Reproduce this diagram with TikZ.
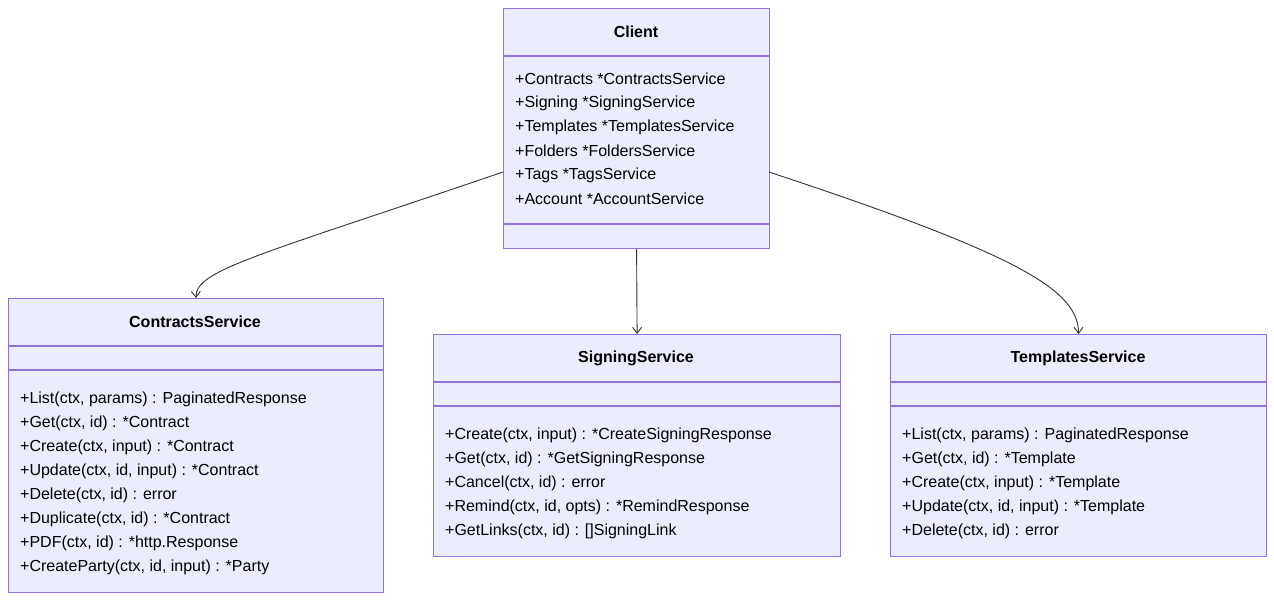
\documentclass[tikz,border=0pt]{standalone}
\usepackage{fontspec}
\setmainfont{Liberation Sans}
\usetikzlibrary{arrows.meta}
\definecolor{cfill}{HTML}{ECECFF}
\definecolor{cstroke}{HTML}{9370DB}
\definecolor{cline}{HTML}{333333}
\begin{document}
\begin{tikzpicture}[x=1pt,y=-1pt,
  box/.style={draw=cstroke,fill=cfill,line width=1.2pt,anchor=north west,inner sep=0pt},
  title/.style={font=\fontsize{16}{16}\selectfont\bfseries,text=black},
  mem/.style={font=\fontsize{16}{16}\selectfont,anchor=west,inner sep=0pt,text=black},
  div/.style={draw=cstroke,line width=1.2pt},
  conn/.style={draw=cline,line width=0.9pt,-{Straight Barb[length=6pt,width=9pt]}}]
\useasboundingbox (0,0) rectangle (1274,600);
% Client
\node[box,minimum width=266pt,minimum height=240pt] (client) at (503,8) {};
\draw[div] (503,56) -- (769,56) (503,224) -- (769,224);
\node[title] (clientt) at (636,32) {Client};
\foreach \t [count=\i] in {+Contracts *ContractsService,+Signing *SigningService,+Templates *TemplatesService,+Folders *FoldersService,+Tags *TagsService,+Account *AccountService}
  \node[mem] (cm\i) at (515,{55+24*\i}) {\t};
% Contracts
\node[box,minimum width=375pt,minimum height=294pt] (contracts) at (8,298) {};
\draw[div] (8,346) -- (383,346) (8,370) -- (383,370);
\node[title] (contractst) at (195,322) {ContractsService};
\foreach \t [count=\i] in {+List(ctx{,} params) : PaginatedResponse,+Get(ctx{,} id) : *Contract,+Create(ctx{,} input) : *Contract,+Update(ctx{,} id{,} input) : *Contract,+Delete(ctx{,} id) : error,+Duplicate(ctx{,} id) : *Contract,+PDF(ctx{,} id) : *http.Response,+CreateParty(ctx{,} id{,} input) : *Party}
  \node[mem] (km\i) at (20,{375+24*\i}) {\t};
% Signing
\node[box,minimum width=407pt,minimum height=222pt] (signing) at (433,334) {};
\draw[div] (433,382) -- (840,382) (433,406) -- (840,406);
\node[title] (signingt) at (636,358) {SigningService};
\foreach \t [count=\i] in {+Create(ctx{,} input) : *CreateSigningResponse,+Get(ctx{,} id) : *GetSigningResponse,+Cancel(ctx{,} id) : error,+Remind(ctx{,} id{,} opts) : *RemindResponse,+GetLinks(ctx{,} id) : []SigningLink}
  \node[mem] (sm\i) at (445,{411+24*\i}) {\t};
% Templates
\node[box,minimum width=376pt,minimum height=222pt] (templates) at (890,334) {};
\draw[div] (890,382) -- (1266,382) (890,406) -- (1266,406);
\node[title] (templatest) at (1078,358) {TemplatesService};
\foreach \t [count=\i] in {+List(ctx{,} params) : PaginatedResponse,+Get(ctx{,} id) : *Template,+Create(ctx{,} input) : *Template,+Update(ctx{,} id{,} input) : *Template,+Delete(ctx{,} id) : error}
  \node[mem] (tm\i) at (902,{411+24*\i}) {\t};
% connectors
\coordinate (cl) at (503,172);
\coordinate (cr) at (769,172);
\draw[conn] (cl) .. controls (260,255) and (195,270) .. (contracts.north);
\draw[conn] (client.south) -- (signing.north);
\draw[conn] (cr) .. controls (1020,255) and (1078,290) .. (templates.north);
\end{tikzpicture}
\end{document}
